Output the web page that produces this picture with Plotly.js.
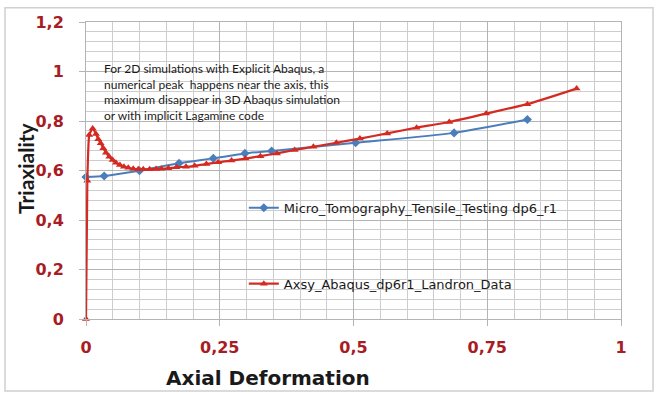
<!DOCTYPE html>
<html>
<head>
<meta charset="utf-8">
<script src="https://cdn.plot.ly/plotly-3.0.1.min.js"></script>
<style>html,body{margin:0;padding:0;background:#fff;}#chart{width:656px;height:394px;}</style>
</head>
<body>
<div id="chart"></div>
<script>
// Micro_Tomography_Tensile_Testing dp6_r1 (blue)
const microX = [0, 0.034, 0.100, 0.174, 0.238, 0.297, 0.347, 0.504, 0.688, 0.825];
const microY = [0.574, 0.578, 0.599, 0.629, 0.649, 0.669, 0.679, 0.712, 0.752, 0.806];

// Axsy_Abaqus_dp6r1_Landron_Data (red)
const abaqusX = [0, 0.0025, 0.006, 0.0125, 0.0187, 0.0229, 0.0274, 0.0323, 0.0373, 0.0435, 0.0498,
  0.056, 0.0634, 0.0709, 0.079, 0.0883, 0.0976, 0.107, 0.119, 0.131, 0.141, 0.154, 0.169, 0.187,
  0.203, 0.225, 0.247, 0.272, 0.298, 0.326, 0.357, 0.390, 0.425, 0.468, 0.512, 0.563, 0.618,
  0.679, 0.748, 0.825, 0.917];
const abaqusY = [0, 0.559, 0.743, 0.770, 0.747, 0.726, 0.710, 0.690, 0.672, 0.656, 0.642,
  0.631, 0.622, 0.615, 0.611, 0.607, 0.605, 0.605, 0.605, 0.606, 0.607, 0.609, 0.613, 0.615,
  0.619, 0.626, 0.633, 0.640, 0.648, 0.658, 0.669, 0.683, 0.696, 0.712, 0.729, 0.750, 0.773,
  0.796, 0.830, 0.868, 0.931];

// Axis tick steps (major / minor)
const xTickStep = 0.25, xMinorStep = 0.05;
const yTickStep = 0.2, yMinorStep = 0.04;

const seriesNames = ['Micro_Tomography_Tensile_Testing dp6_r1', 'Axsy_Abaqus_dp6r1_Landron_Data'];
const noteLines = [
  'For 2D simulations with Explicit Abaqus, a',
  'numerical peak  happens near the axis, this',
  'maximum disappear in 3D Abaqus simulation',
  'or with implicit Lagamine code'
];

const tickColor = '#A81C24';
const tickFont = {family: 'DejaVu Sans', size: 16, color: tickColor, weight: 'bold'};

const traces = [
  {
    x: microX, y: microY, name: seriesNames[0], type: 'scatter', mode: 'lines+markers',
    legendgroup: 'a',
    line: {color: '#4A7EBB', width: 2, shape: 'spline', smoothing: 0.6},
    marker: {symbol: 'diamond', size: 7, color: '#4A7EBB'},
    cliponaxis: false
  },
  {
    x: abaqusX, y: abaqusY, name: seriesNames[1], type: 'scatter', mode: 'lines+markers',
    legendgroup: 'b',
    line: {color: '#D42A22', width: 2.2, shape: 'spline', smoothing: 0.4},
    marker: {symbol: 'triangle-up', size: 7, color: '#D42A22'},
    cliponaxis: false
  }
];

const layout = {
  width: 656, height: 394,
  margin: {l: 86, r: 35, t: 22, b: 75},
  paper_bgcolor: '#ffffff', plot_bgcolor: '#ffffff',
  separators: ', ',
  showlegend: true,
  legend: {
    x: 0.295, y: 0.425, xanchor: 'left', yanchor: 'top',
    bgcolor: 'rgba(0,0,0,0)', traceorder: 'grouped', tracegroupgap: 56,
    font: {family: 'DejaVu Sans', size: 13, color: '#1a1a1a'}
  },
  xaxis: {
    range: [0, 1], dtick: xTickStep, tickformat: ',.2~f',
    showgrid: true, gridcolor: '#B4B4B4', gridwidth: 1,
    minor: {dtick: xMinorStep, showgrid: true, gridcolor: '#CDCDCD'},
    ticks: 'outside', ticklen: 6, tickcolor: '#B4B4B4',
    showline: true, linecolor: '#B4B4B4', mirror: true,
    zeroline: false, tickfont: tickFont, ticklabelstandoff: 8
  },
  yaxis: {
    range: [0, 1.2], dtick: yTickStep, tickformat: ',.1~f',
    showgrid: true, gridcolor: '#B4B4B4', gridwidth: 1,
    minor: {dtick: yMinorStep, showgrid: true, gridcolor: '#CDCDCD'},
    ticks: 'outside', ticklen: 6, tickcolor: '#B4B4B4',
    showline: true, linecolor: '#B4B4B4', mirror: true,
    zeroline: false, tickfont: tickFont, ticklabelstandoff: 12
  },
  annotations: [
    {
      text: noteLines.join('<br>'), xref: 'paper', yref: 'paper',
      x: (101.5 - 86) / 535, y: (319.3 - 59) / 297.6, xanchor: 'left', yanchor: 'top',
      align: 'left', showarrow: false,
      font: {family: 'Lato', size: 12, color: '#1a1a1a'}
    },
    {
      text: 'Axial Deformation', xref: 'paper', yref: 'paper',
      x: (268 - 86) / 535, y: (319.3 - 378) / 297.6, xanchor: 'center', yanchor: 'middle',
      showarrow: false,
      font: {family: 'DejaVu Sans', size: 20, color: '#1a1a1a', weight: 'bold'}
    },
    {
      text: 'Triaxiality', xref: 'paper', yref: 'paper',
      x: (25 - 86) / 535, y: (319.3 - 168) / 297.6, xanchor: 'center', yanchor: 'middle',
      textangle: -90, showarrow: false,
      font: {family: 'Lato', size: 21, color: '#1a1a1a', weight: 'bold'}
    }
  ],
  shapes: [
    {
      type: 'rect', xref: 'paper', yref: 'paper', layer: 'below',
      x0: (5 - 86) / 535, x1: (653 - 86) / 535,
      y0: (319.3 - 391.5) / 297.6, y1: (319.3 - 7.5) / 297.6,
      line: {color: '#D0D0D0', width: 1.5}
    }
  ]
};

Plotly.newPlot('chart', traces, layout, {staticPlot: true, displayModeBar: false});
</script>
</body>
</html>
